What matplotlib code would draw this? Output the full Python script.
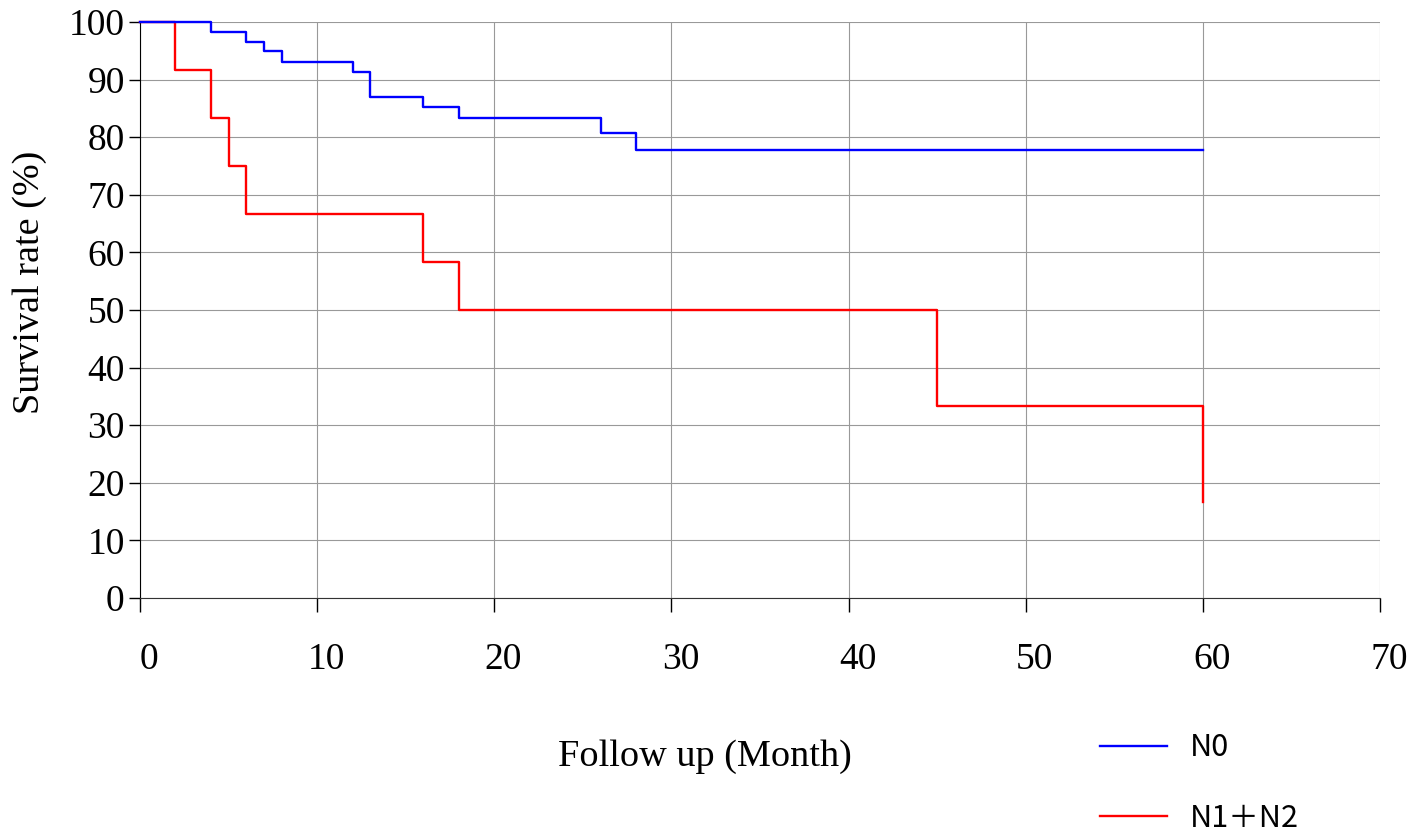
import matplotlib
matplotlib.use("Agg")
import matplotlib.pyplot as plt
from matplotlib.transforms import ScaledTranslation

# Kaplan-Meier steps
n0_time = [0, 4, 6, 7, 8, 12, 13, 16, 18, 26, 28, 60]
n0_surv = [100, 98.3, 96.6, 94.9, 93.0, 91.3, 87.0, 85.3, 83.3, 80.7, 77.7, 77.7]

n12_time = [0, 2, 4, 5, 6, 16, 18, 45, 60]
n12_surv = [100, 91.7, 83.3, 75.0, 66.7, 58.3, 50.0, 33.3, 16.7]

x_ticks = [0, 10, 20, 30, 40, 50, 60, 70]
y_ticks = [0, 10, 20, 30, 40, 50, 60, 70, 80, 90, 100]

serif = ["Liberation Serif", "DejaVu Serif"]
sans = ["Noto Sans CJK JP", "DejaVu Sans"]

fig = plt.figure(figsize=(14.15, 8.36), dpi=100)
ax = fig.add_axes([140 / 1415, 1 - 598 / 836, 1240 / 1415, 576 / 836])

ax.step(n12_time, n12_surv, where="post", color="#ff0000", lw=1.7, label="N1＋N2", clip_on=False, zorder=3)
ax.step(n0_time, n0_surv, where="post", color="#0000ff", lw=1.7, label="N0", clip_on=False, zorder=4)

ax.set_xlim(0, 70)
ax.set_ylim(0, 100)
ax.set_xticks(x_ticks)
ax.set_yticks(y_ticks)
ax.grid(True, color="#999999", lw=0.8)
ax.set_axisbelow(True)

for side in ["top", "right"]:
    ax.spines[side].set_visible(False)
ax.spines["left"].set_color("black")
ax.spines["bottom"].set_color("#333333")

ax.tick_params(axis="x", length=10, width=1, pad=22, labelsize=27, direction="out")
ax.tick_params(axis="y", length=8, width=1, pad=3, labelsize=27, direction="out")
for lab in ax.get_xticklabels() + ax.get_yticklabels():
    lab.set_fontfamily(serif)
# x labels in the reference sit a bit right of their ticks
for lab in ax.get_xticklabels():
    lab.set_transform(lab.get_transform() + ScaledTranslation(0.09, 0, fig.dpi_scale_trans))

fig.text(705 / 1415, 1 - 757 / 836, "Follow up (Month)", family=serif, fontsize=27.5,
         ha="center", va="center")
fig.text(30 / 1415, 1 - 282 / 836, "Survival rate (%)", family=serif, fontsize=27.5,
         ha="center", va="center", rotation=90)

handles, labels = ax.get_legend_handles_labels()
ax.legend(handles[::-1], labels[::-1], loc="upper left", bbox_to_anchor=(1088 / 1415, 1 - 720 / 836),
          bbox_transform=fig.transFigure, frameon=False, prop={"family": sans, "size": 22},
          handlelength=2.2, handletextpad=0.75, labelspacing=1.3, borderaxespad=0)

fig.savefig("out.png", dpi=100)
